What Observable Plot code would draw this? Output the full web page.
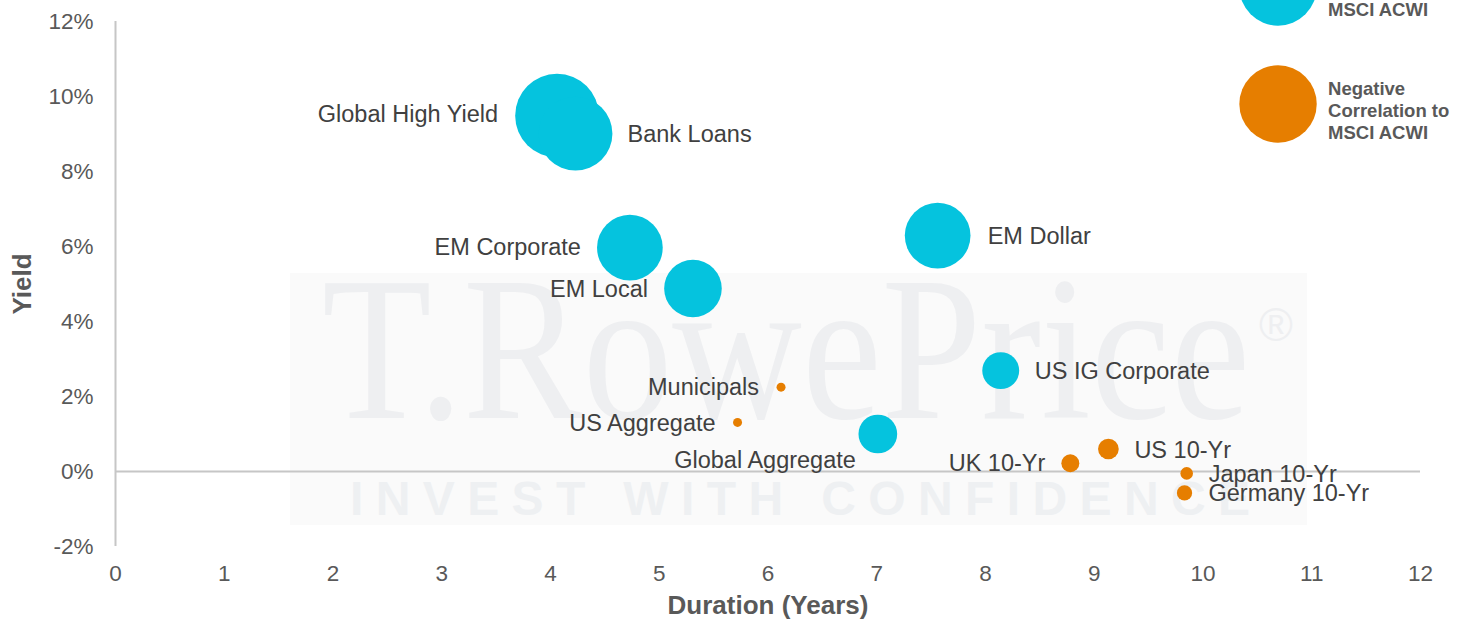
<!DOCTYPE html>
<html>
<head>
<meta charset="utf-8">
<script src="https://cdn.jsdelivr.net/npm/d3@7"></script>
<script src="https://cdn.jsdelivr.net/npm/@observablehq/plot@0.6"></script>
<style>
  html, body { margin: 0; padding: 0; background: #fff; }
  #wrap { position: relative; width: 1457px; height: 619px; overflow: hidden; }
  #wm { position: absolute; left: 0; top: 0; }
  #chart { position: absolute; left: 0; top: 0; }
  #chart svg { background: transparent !important; }
  #chart svg, #chart svg text { font-family: "Liberation Sans", Arial, Helvetica, sans-serif !important; }
  g[aria-label="y-axis label"] text, g[aria-label="x-axis label"] text { font-weight: bold; font-size: 26px; }
</style>
</head>
<body>
<div id="wrap">
  <svg id="wm" width="1457" height="619"></svg>
  <div id="chart"></div>
</div>
<script>
// ---- data ----
const names = ["Global High Yield", "Bank Loans", "EM Corporate", "EM Local", "EM Dollar", "US IG Corporate",
  "Municipals", "US Aggregate", "Global Aggregate", "UK 10-Yr", "US 10-Yr", "Japan 10-Yr", "Germany 10-Yr"];
const duration = [4.06, 4.23, 4.73, 5.31, 7.56, 8.14, 6.12, 5.72, 7.01, 8.78, 9.13, 9.85, 9.83];
const yieldPct = [9.49, 9.01, 5.97, 4.88, 6.29, 2.69, 2.25, 1.31, 1.00, 0.22, 0.60, -0.05, -0.57];
const correlation = [0.93, 0.82, 0.73, 0.64, 0.73, 0.41, -0.10, -0.10, 0.43, -0.20, -0.23, -0.14, -0.17];

const legendLabels = ["Positive\nCorrelation to\nMSCI ACWI", "Negative\nCorrelation to\nMSCI ACWI"];
const legendDuration = [10.69, 10.69];
const legendYield = [12.92, 9.80];
const legendCorrelation = [0.86, -0.86];

const xTicks = [0, 1, 2, 3, 4, 5, 6, 7, 8, 9, 10, 11, 12];
const yTicks = [-2, 0, 2, 4, 6, 8, 10, 12];

// ---- tables ----
const points = names.map((name, i) => ({name, duration: duration[i], yield: yieldPct[i], corr: correlation[i]}));
const legend = legendLabels.map((label, i) => ({label, duration: legendDuration[i], yield: legendYield[i], corr: legendCorrelation[i]}));

const CYAN = "#05c3de", ORANGE = "#e67e00";
const sign = d => d.corr >= 0 ? "Positive" : "Negative";

// label placement (anchor, dx, dy)
const place = {
  "Global High Yield": ["end", -59, -1],
  "Bank Loans": ["start", 52, 1],
  "EM Corporate": ["end", -49, 0],
  "EM Local": ["end", -45, 1],
  "EM Dollar": ["start", 50, 1],
  "US IG Corporate": ["start", 34, 1],
  "Municipals": ["end", -22, 0],
  "US Aggregate": ["end", -22, 1],
  "Global Aggregate": ["end", -22, 26],
  "UK 10-Yr": ["end", -25, 0],
  "US 10-Yr": ["start", 26, 1],
  "Japan 10-Yr": ["start", 22, 1],
  "Germany 10-Yr": ["start", 24, 1]
};
const labelMarks = points.map(p => {
  const [anchor, dx, dy] = place[p.name];
  return Plot.text([p], {x: "duration", y: "yield", text: "name", textAnchor: anchor, dx, dy,
    fill: "#404040", fontSize: 23.5});
});

// ---- watermark (decoration) ----
const wm = d3.select("#wm");
wm.append("rect").attr("x", 290).attr("y", 273).attr("width", 1017).attr("height", 252).attr("fill", "#fafafa");
wm.append("text").attr("x", 322).attr("y", 418).attr("font-family", "'Liberation Serif', 'DejaVu Serif', serif")
  .attr("font-size", 206).attr("fill", "#eeeff1").attr("textLength", 928).attr("lengthAdjust", "spacingAndGlyphs")
  .text("T.RowePrice");
wm.append("text").attr("x", 1276).attr("y", 341).attr("text-anchor", "middle")
  .attr("font-family", "'Liberation Sans', Arial, sans-serif").attr("font-size", 46).attr("fill", "#eeeff1").text("®");
wm.append("text").attr("x", 350).attr("y", 515).attr("font-family", "'Liberation Sans', Arial, sans-serif")
  .attr("font-weight", "bold").attr("font-size", 48).attr("fill", "#eef0f2")
  .attr("textLength", 900).attr("lengthAdjust", "spacing").text("INVEST WITH CONFIDENCE");

// ---- chart ----
const chart = Plot.plot({
  width: 1457,
  height: 619,
  marginLeft: 115,
  marginRight: 37,
  marginTop: 21,
  marginBottom: 73,
  style: {fontSize: "22px", color: "#595959", background: "transparent", overflow: "visible"},
  x: {domain: [0, 12]},
  y: {domain: [-2, 12]},
  r: {type: "linear", domain: [0, 1], range: [0, 45]},
  color: {domain: ["Positive", "Negative"], range: [CYAN, ORANGE]},
  marks: [
    Plot.axisY({ticks: yTicks, tickFormat: d => d + "%", tickSize: 0, tickPadding: 22, fontSize: 22.5,
      label: "Yield", labelAnchor: "center", labelOffset: 103, labelArrow: "none"}),
    Plot.axisX({ticks: xTicks, tickFormat: d => String(d), tickSize: 0, tickPadding: 19, fontSize: 22.5,
      label: "Duration (Years)", labelAnchor: "center", labelOffset: 67, labelArrow: "none"}),
    Plot.ruleX([0], {stroke: "#c6c6c6", strokeWidth: 2}),
    Plot.ruleY([0], {stroke: "#c6c6c6", strokeWidth: 2}),
    Plot.dot(points, {x: "duration", y: "yield", r: d => Math.abs(d.corr), fill: sign, stroke: null}),
    Plot.dot(legend, {x: "duration", y: "yield", r: d => Math.abs(d.corr), fill: sign, stroke: null}),
    ...labelMarks,
    Plot.text(legend.filter(d => d.corr >= 0), {x: "duration", y: "yield", text: "label", textAnchor: "start",
      dx: 50, dy: 0, fontWeight: "bold", fontSize: 18.5, lineHeight: 1.19, fill: "#595959"}),
    Plot.text(legend.filter(d => d.corr < 0), {x: "duration", y: "yield", text: "label", textAnchor: "start",
      dx: 50, dy: 6, fontWeight: "bold", fontSize: 18.5, lineHeight: 1.19, fill: "#595959"})
  ]
});
document.getElementById("chart").appendChild(chart);
</script>
</body>
</html>
